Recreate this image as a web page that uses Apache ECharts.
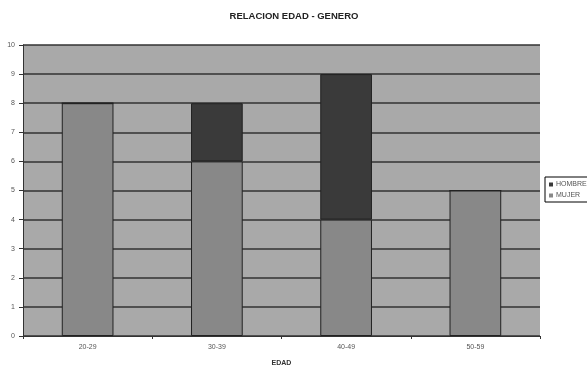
<!DOCTYPE html>
<html>
<head>
<meta charset="utf-8">
<script src="https://cdn.jsdelivr.net/npm/echarts@6/dist/echarts.min.js"></script>
<style>
  html, body { margin: 0; padding: 0; background: #ffffff; }
  #chart { width: 587px; height: 366px; }
</style>
</head>
<body>
<div id="chart"></div>
<script>
// Age groups and counts per gender
const categories = ['20-29', '30-39', '40-49', '50-59'];
const mujer = [8, 6, 4, 5];
const hombre = [0, 2, 5, 0];
const yTicks = [0, 1, 2, 3, 4, 5, 6, 7, 8, 9, 10];

const chart = echarts.init(document.getElementById('chart'), null, { renderer: 'canvas' });
const font = 'Liberation Sans, Arial, sans-serif';

chart.setOption({
  animation: false,
  backgroundColor: '#ffffff',
  title: {
    text: 'RELACION EDAD - GENERO',
    left: 289,
    textAlign: 'center',
    top: 6,
    textStyle: { fontFamily: font, fontSize: 9.5, fontWeight: 'bold', color: '#222' }
  },
  legend: {
    data: ['HOMBRE', 'MUJER'],
    orient: 'vertical',
    left: 545,
    top: 177,
    itemWidth: 4,
    itemHeight: 4,
    itemGap: 4,
    padding: [4, 12, 3, 4],
    borderColor: '#000',
    borderWidth: 1,
    backgroundColor: '#fff',
    icon: 'rect',
    itemStyle: { borderWidth: 0 },
    textStyle: { fontFamily: font, fontSize: 7, color: '#555', padding: [0, 0, 0, -2] }
  },
  grid: {
    left: 23, right: 47, top: 45, bottom: 30,
    outerBoundsMode: 'none',
    containLabel: false,
    show: true, backgroundColor: '#a9a9a9', borderWidth: 0
  },
  xAxis: {
    type: 'category',
    data: categories,
    name: 'EDAD',
    nameLocation: 'middle',
    nameGap: 24,
    nameTextStyle: { fontFamily: font, fontSize: 7, fontWeight: 'bold', color: '#333' },
    axisLine: { lineStyle: { color: '#333', width: 1 } },
    axisTick: { show: true, length: 3, lineStyle: { color: '#333' } },
    axisLabel: { fontFamily: font, fontSize: 7, color: '#555', margin: 8 }
  },
  yAxis: {
    type: 'value',
    min: yTicks[0],
    max: yTicks[yTicks.length - 1],
    interval: 1,
    axisLine: { show: true, lineStyle: { color: '#333', width: 1 } },
    axisTick: { show: true, length: 4, lineStyle: { color: '#333' } },
    axisLabel: { fontFamily: font, fontSize: 7, color: '#555', margin: 8 },
    splitLine: { show: true, lineStyle: { color: '#333333', width: 1.6 } }
  },
  series: [
    {
      name: 'MUJER',
      type: 'bar',
      stack: 'total',
      data: mujer,
      barWidth: '40%',
      itemStyle: { color: '#888888', borderColor: '#222', borderWidth: 1 }
    },
    {
      name: 'HOMBRE',
      type: 'bar',
      stack: 'total',
      data: hombre,
      barWidth: '40%',
      itemStyle: { color: '#3a3a3a', borderColor: '#222', borderWidth: 1 }
    }
  ]
});
</script>
</body>
</html>
